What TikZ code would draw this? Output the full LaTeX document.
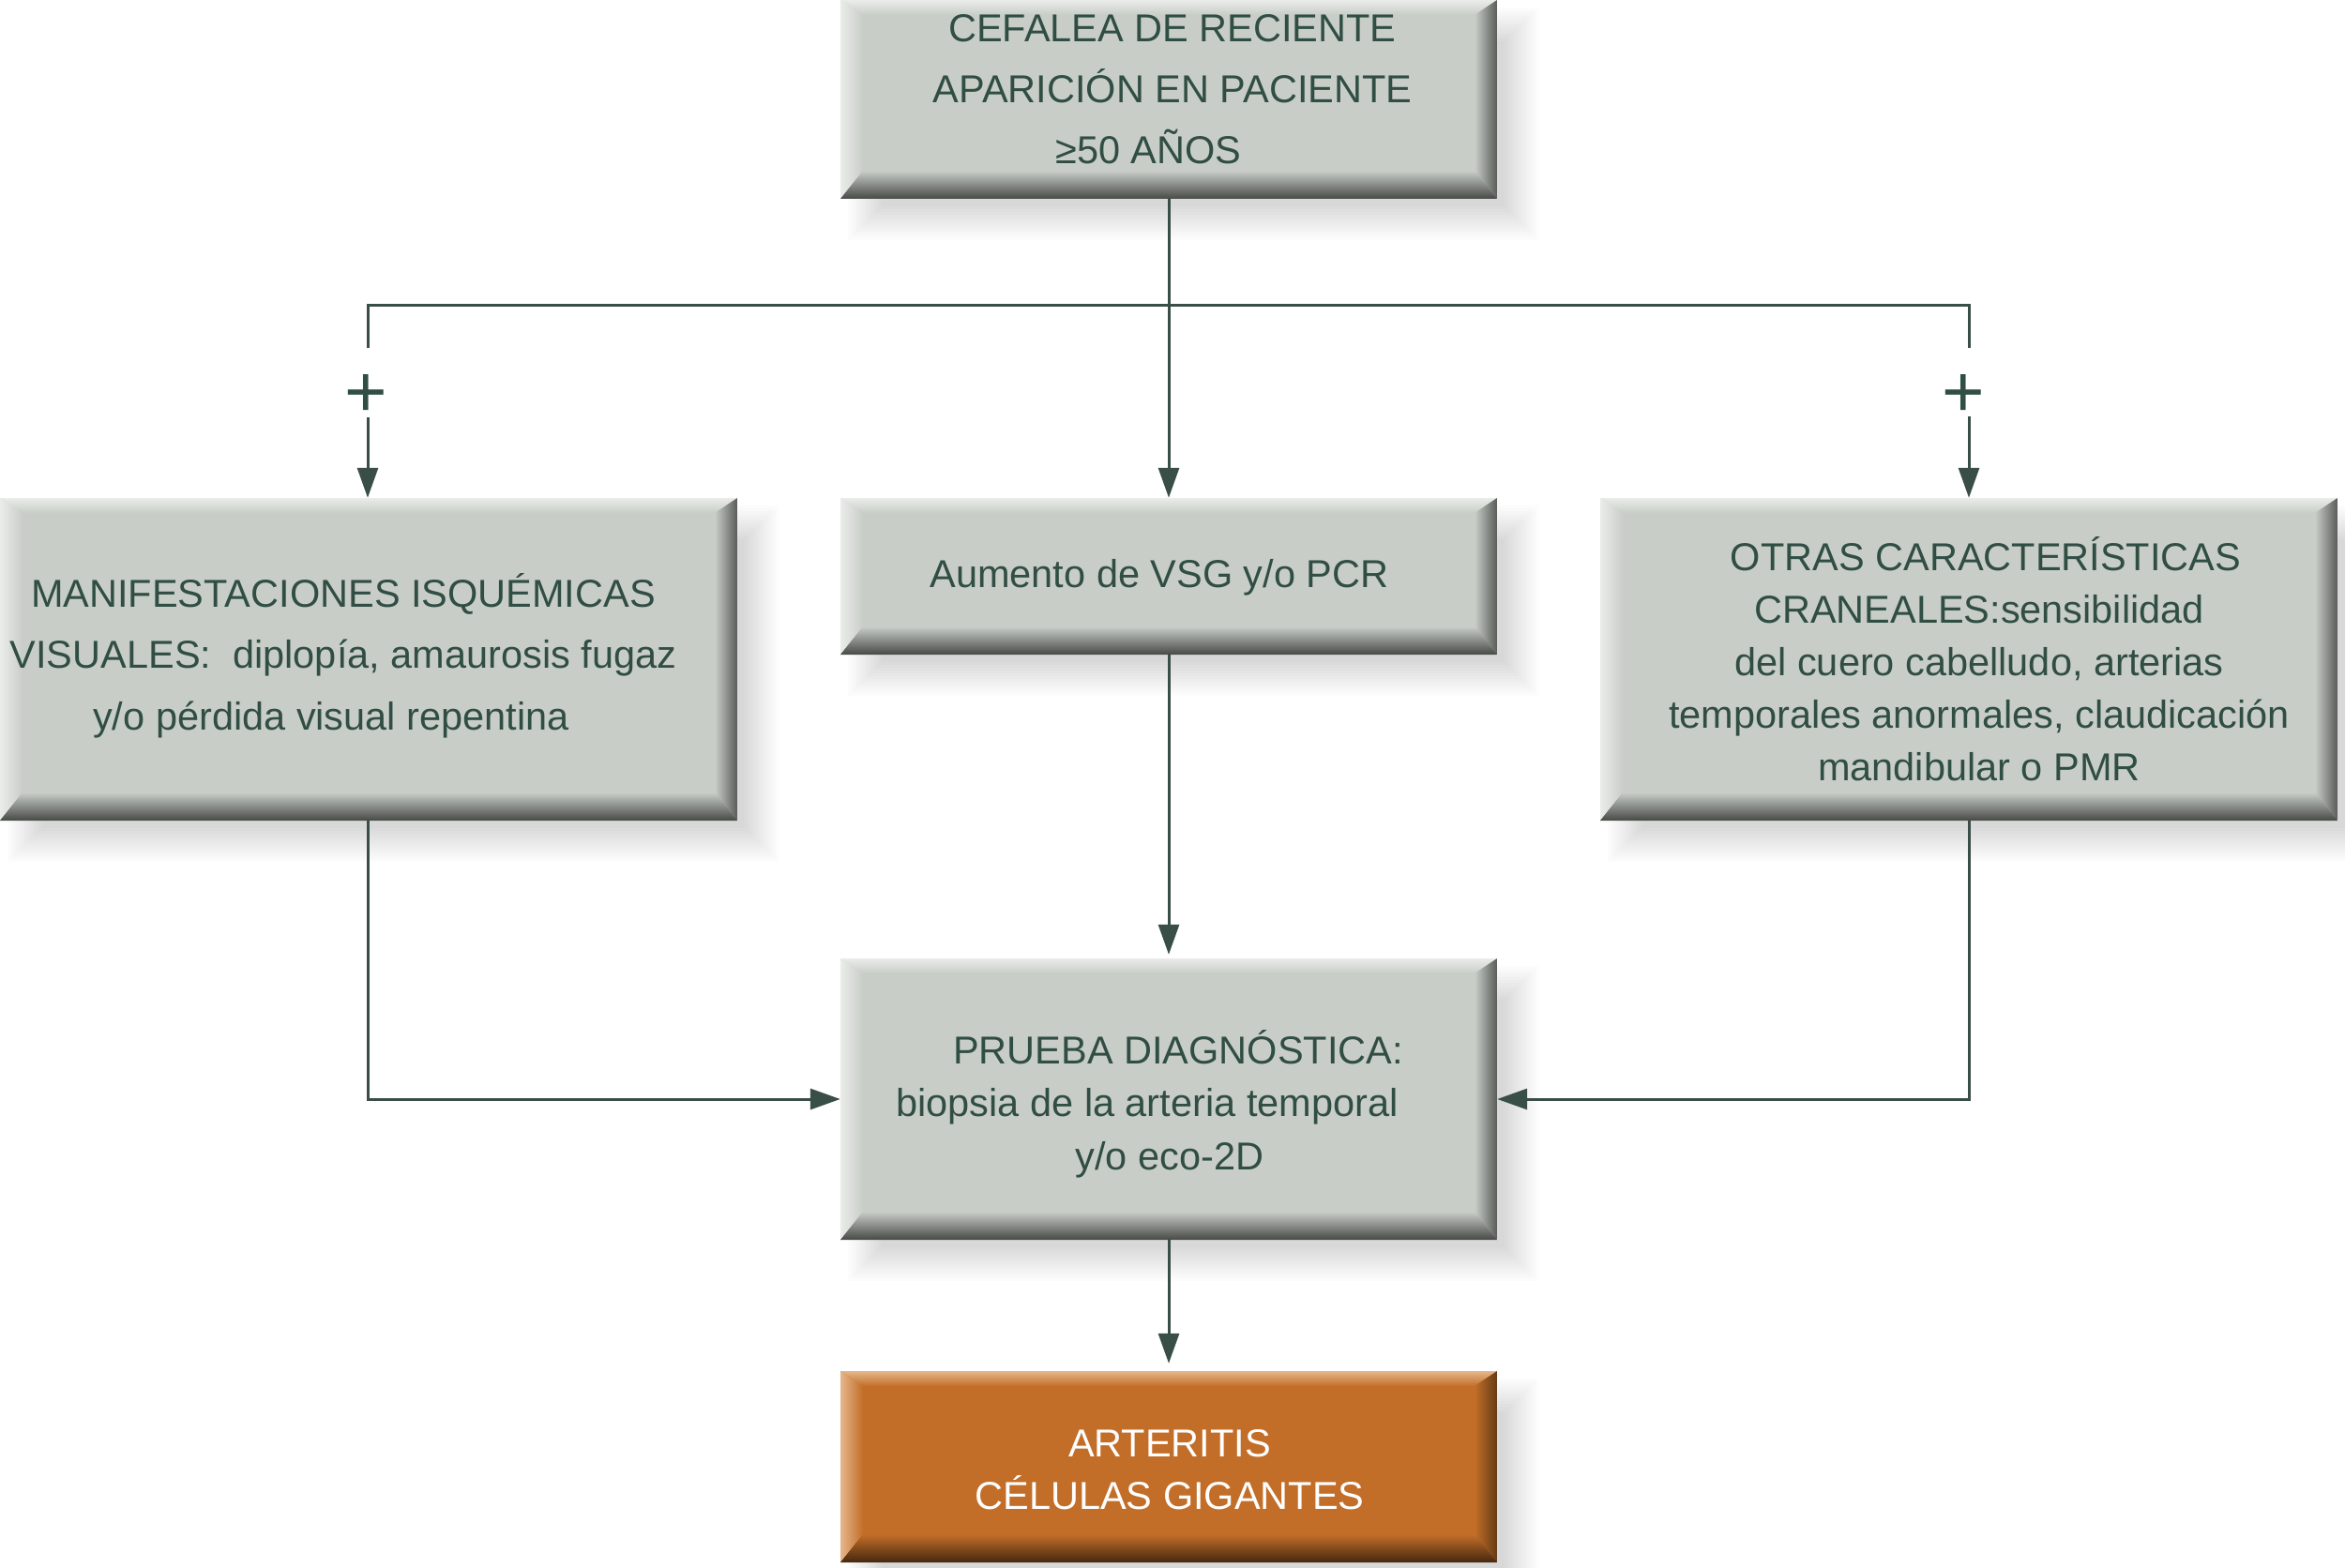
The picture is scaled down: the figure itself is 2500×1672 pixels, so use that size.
\documentclass[tikz,border=0pt]{standalone}
\usepackage{fontspec}
\setmainfont{Liberation Sans}
\usetikzlibrary{arrows.meta,calc}
\definecolor{gbase}{RGB}{201,205,200}
\definecolor{glight}{RGB}{234,236,233}
\definecolor{gdarkb}{RGB}{70,73,70}
\definecolor{gdarkr}{RGB}{88,91,88}
\definecolor{obase}{RGB}{195,110,40}
\definecolor{olight}{RGB}{228,182,140}
\definecolor{odarkb}{RGB}{68,40,16}
\definecolor{odarkr}{RGB}{100,58,22}
\definecolor{txt}{RGB}{48,78,68}
\definecolor{lnc}{RGB}{58,78,72}
\pgfdeclarelayer{bg}
\pgfsetlayers{bg,main}
\tikzset{
  bevelbox/.style n args={4}{rectangle, inner sep=0pt, fill=#1,
    path picture={
      \coordinate (bsw) at (path picture bounding box.south west);
      \coordinate (bne) at (path picture bounding box.north east);
      \coordinate (bnw) at (path picture bounding box.north west);
      \coordinate (bse) at (path picture bounding box.south east);
      \shade[top color=#2, bottom color=#1] (bnw) -- (bne) -- ([xshift=-24pt,yshift=-16pt]bne) -- ([xshift=24pt,yshift=-16pt]bnw) -- cycle;
      \shade[left color=#2, right color=#1] (bnw) -- (bsw) -- ([xshift=24pt,yshift=30pt]bsw) -- ([xshift=24pt,yshift=-16pt]bnw) -- cycle;
      \shade[left color=#1, right color=#4] (bne) -- (bse) -- ([xshift=-24pt,yshift=30pt]bse) -- ([xshift=-24pt,yshift=-16pt]bne) -- cycle;
      \shade[top color=#1, bottom color=#3] (bsw) -- (bse) -- ([xshift=-24pt,yshift=30pt]bse) -- ([xshift=24pt,yshift=30pt]bsw) -- cycle;
    }},
  gbox/.style={bevelbox={gbase}{glight}{gdarkb}{gdarkr}},
  obox/.style={bevelbox={obase}{olight}{odarkb}{odarkr}},
  boxtext/.style={align=center, inner sep=0pt, text=txt},
  plusnode/.style={inner sep=0pt, text=txt, font=\fontsize{78}{78}\selectfont},
  conn/.style={draw=lnc, line width=3pt},
  arr/.style={-{Triangle[length=32pt,width=22pt,fill=lnc]}}
}
\newcommand\softshadow[1]{%
  \begin{pgfonlayer}{bg}
  \foreach \sv in {-18,-15,...,18}{
    \fill[black,opacity=0.012] ([xshift={26pt+(\sv)*1pt}, yshift={-26pt+(\sv)*1pt}]#1.south west) rectangle ([xshift={26pt-(\sv)*1pt}, yshift={-26pt-(\sv)*1pt}]#1.north east);
  }
  \end{pgfonlayer}}
\begin{document}
\begin{tikzpicture}[x=1pt,y=-1pt]
\useasboundingbox (0,0) rectangle (2500,1672);
\begin{pgfonlayer}{bg}
\fill[white] (0,0) rectangle (2500,1672);
\end{pgfonlayer}

% boxes
\node[gbox, minimum width=700pt, minimum height=212pt] (topbox) at (1246,106) {};
\node[gbox, minimum width=700pt, minimum height=167pt] (midbox) at (1246,614.5) {};
\node[gbox, minimum width=786pt, minimum height=344pt] (leftbox) at (393,703) {};
\node[gbox, minimum width=786pt, minimum height=344pt] (rightbox) at (2099,703) {};
\node[gbox, minimum width=700pt, minimum height=300pt] (diagbox) at (1246,1172) {};
\node[obox, minimum width=700pt, minimum height=204pt] (finalbox) at (1246,1564) {};

\softshadow{topbox}
\softshadow{midbox}
\softshadow{leftbox}
\softshadow{rightbox}
\softshadow{diagbox}
\softshadow{finalbox}

% texts
\node[boxtext, font=\fontsize{41.5}{65}\selectfont] (toptxt) at (1250,95)
  {CEFALEA DE RECIENTE\\APARICIÓN EN PACIENTE\\≥50 AÑOS\hspace*{51pt}};
\node[boxtext, font=\fontsize{41.5}{65}\selectfont, anchor=base] (midtxt) at (1236,626)
  {Aumento de VSG y/o PCR};
\node[boxtext, font=\fontsize{41.5}{65.5}\selectfont] (lefttxt) at (366,699)
  {MANIFESTACIONES ISQUÉMICAS\\VISUALES:\ \ diplopía, amaurosis fugaz\\y/o pérdida visual repentina\hspace*{26pt}};
\node[boxtext, font=\fontsize{41.5}{56}\selectfont] (righttxt) at (2110,703)
  {\hspace*{14pt}OTRAS CARACTERÍSTICAS\\CRANEALES:sensibilidad\\del cuero cabelludo, arterias\\temporales anormales, claudicación\\mandibular o PMR};
\node[boxtext, font=\fontsize{41.5}{56.5}\selectfont] (diagtxt) at (1247,1177)
  {\hspace*{18pt}PRUEBA DIAGNÓSTICA:\\biopsia de la arteria temporal\hspace*{48pt}\mbox{}\\y/o eco-2D};
\node[boxtext, text=white, font=\fontsize{41.5}{56}\selectfont] (finaltxt) at (1247,1567)
  {ARTERITIS\\CÉLULAS GIGANTES};

% plus signs
\node[plusnode] (plusL) at (390,422) {+};
\node[plusnode] (plusR) at (2093,422) {+};

% connectors
\coordinate (hub) at (1246,325);
\coordinate (jl) at (392,371);
\coordinate (jr) at (2099,371);
\coordinate (aL) at (392,445);
\coordinate (aR) at (2099,444);
\draw[conn] (jl) |- (hub) -| (jr);
\draw[conn,arr] (topbox.south) -- (midbox.north);
\draw[conn,arr] (aL) -- (aL |- leftbox.north);
\draw[conn,arr] (aR) -- (aR |- rightbox.north);
\draw[conn,arr,shorten >=4pt] (midbox.south) -- (diagbox.north);
\draw[conn,arr] (leftbox.south -| aL) |- (diagbox.west);
\draw[conn,arr] (rightbox.south -| aR) |- (diagbox.east);
\draw[conn,arr,shorten >=8pt] (diagbox.south) -- (finalbox.north);
\end{tikzpicture}
\end{document}
